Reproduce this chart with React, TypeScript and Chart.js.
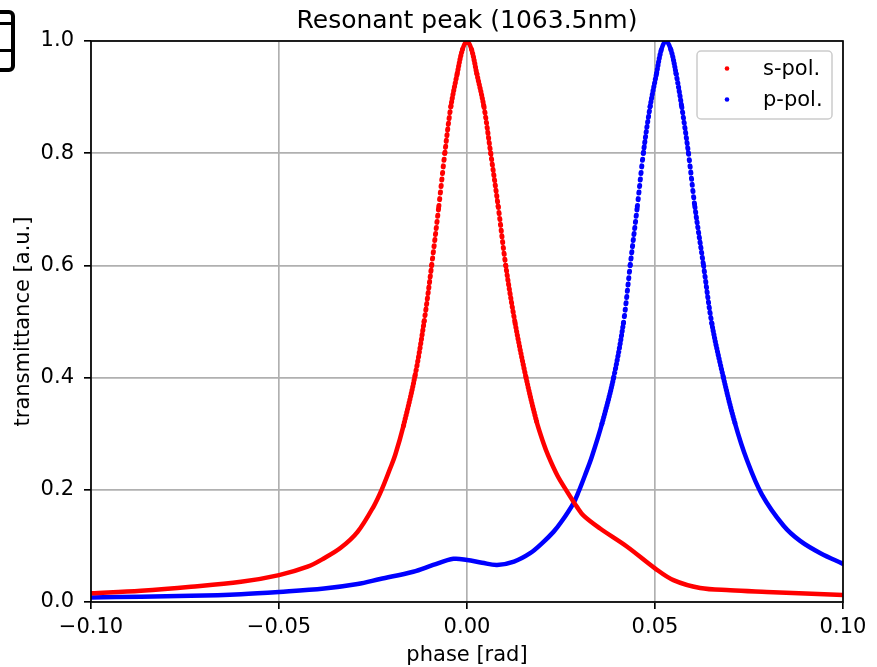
import React, { useEffect, useRef } from "react";
import { Chart, registerables } from "chart.js";

Chart.register(...registerables);

const sPhase = [-0.1, -0.0867, -0.0734, -0.0601, -0.05, -0.0424, -0.038, -0.0335, -0.0291, -0.0247, -0.0227, -0.0205, -0.0191, -0.0169, -0.0138, -0.0114, -0.0094, -0.0075, -0.0059, -0.0043, -0.0026, -0.0012, 0.0, 0.0012, 0.0026, 0.0045, 0.0063, 0.0083, 0.0103, 0.0128, 0.0157, 0.0185, 0.0203, 0.0216, 0.024, 0.0265, 0.0282, 0.0292, 0.031, 0.0354, 0.0425, 0.05, 0.0549, 0.062, 0.07, 0.0797, 0.09, 0.1];
const sValue = [0.0155, 0.02, 0.027, 0.036, 0.048, 0.063, 0.078, 0.097, 0.125, 0.172, 0.2, 0.237, 0.262, 0.314, 0.404, 0.5, 0.6, 0.705, 0.8, 0.883, 0.942, 0.985, 1.0, 0.985, 0.942, 0.883, 0.8, 0.705, 0.6, 0.497, 0.4, 0.322, 0.284, 0.261, 0.226, 0.198, 0.18, 0.17, 0.154, 0.131, 0.099, 0.06, 0.039, 0.025, 0.021, 0.018, 0.015, 0.0125];

const pPhase = [-0.1, -0.0867, -0.0734, -0.0601, -0.05, -0.038, -0.0291, -0.0231, -0.0143, -0.009, -0.0036, 0.0, 0.004, 0.008, 0.0125, 0.0168, 0.02, 0.023, 0.025, 0.0283, 0.0297, 0.0315, 0.0332, 0.0359, 0.039, 0.0416, 0.0434, 0.0453, 0.0469, 0.0487, 0.0504, 0.0517, 0.0529, 0.0542, 0.0556, 0.0571, 0.0589, 0.0606, 0.0629, 0.0651, 0.0682, 0.0713, 0.0744, 0.0784, 0.0842, 0.0886, 0.094, 0.1];
const pValue = [0.008, 0.0095, 0.011, 0.014, 0.018, 0.024, 0.032, 0.041, 0.054, 0.066, 0.077, 0.075, 0.07, 0.066, 0.072, 0.087, 0.105, 0.125, 0.142, 0.176, 0.197, 0.228, 0.259, 0.318, 0.4, 0.497, 0.6, 0.705, 0.8, 0.883, 0.942, 0.985, 1.0, 0.985, 0.942, 0.883, 0.8, 0.705, 0.6, 0.497, 0.4, 0.318, 0.254, 0.192, 0.136, 0.109, 0.087, 0.068];

const xTicks = [-0.1, -0.05, 0.0, 0.05, 0.1];
const yTicks = [0.0, 0.2, 0.4, 0.6, 0.8, 1.0];

const seriesLabels = ["s-pol.", "p-pol."];
const seriesColors = ["#ff0000", "#0000ff"];
const titleText = "Resonant peak (1063.5nm)";
const xTitle = "phase [rad]";
const yTitle = "transmittance [a.u.]";

const FONT = '"DejaVu Sans", sans-serif';

// marker spacing (px along x) used to imitate the dense dotted markers
const SAMPLE_DX = 0.75;
const DOT_THRESHOLD = 3.0;

function stepOf(ctx: any) {
  const dx = Math.abs(ctx.p1.x - ctx.p0.x);
  const dy = Math.abs(ctx.p1.y - ctx.p0.y);
  if (dx < 0.01) return 8;
  return Math.min(8, (SAMPLE_DX * Math.hypot(dx, dy)) / dx);
}

const decorPlugin = {
  id: "decor",
  afterDraw(chart: any) {
    const { ctx, chartArea } = chart;
    const { left, right, top, bottom } = chartArea;
    ctx.save();
    ctx.strokeStyle = "#000";
    ctx.lineWidth = 1.67;
    ctx.strokeRect(left, top, right - left, bottom - top);
    ctx.fillStyle = "#000";
    ctx.font = `25px ${FONT}`;
    ctx.textAlign = "center";
    ctx.textBaseline = "alphabetic";
    ctx.fillText(titleText, (left + right) / 2, 28);
    ctx.font = `21px ${FONT}`;
    ctx.fillText(xTitle, (left + right) / 2, 661);
    ctx.save();
    ctx.translate(29, (top + bottom) / 2);
    ctx.rotate(-Math.PI / 2);
    ctx.fillText(yTitle, 0, 0);
    ctx.restore();
    const lx = 697, ly = 51, lw = 135, lh = 68, r = 4;
    ctx.beginPath();
    ctx.moveTo(lx + r, ly);
    ctx.lineTo(lx + lw - r, ly);
    ctx.arcTo(lx + lw, ly, lx + lw, ly + r, r);
    ctx.lineTo(lx + lw, ly + lh - r);
    ctx.arcTo(lx + lw, ly + lh, lx + lw - r, ly + lh, r);
    ctx.lineTo(lx + r, ly + lh);
    ctx.arcTo(lx, ly + lh, lx, ly + lh - r, r);
    ctx.lineTo(lx, ly + r);
    ctx.arcTo(lx, ly, lx + r, ly, r);
    ctx.closePath();
    ctx.fillStyle = "rgba(255,255,255,0.8)";
    ctx.fill();
    ctx.strokeStyle = "#cccccc";
    ctx.lineWidth = 1.5;
    ctx.stroke();
    ctx.font = `21px ${FONT}`;
    ctx.textAlign = "left";
    ctx.textBaseline = "middle";
    seriesLabels.forEach((lab, i) => {
      const cy = 68.5 + i * 31;
      ctx.beginPath();
      ctx.arc(727, cy, 2.3, 0, Math.PI * 2);
      ctx.fillStyle = seriesColors[i];
      ctx.fill();
      ctx.fillStyle = "#000";
      ctx.fillText(lab, 763, cy + 1);
    });
    ctx.restore();
  },
};

function fmt(v: number, d: number) {
  const s = Math.abs(v).toFixed(d);
  return v < -1e-12 ? "\u2212" + s : s;
}

function makeDataset(label: string, xs: number[], ys: number[], color: string) {
  return {
    label,
    data: xs.map((x, i) => ({ x, y: ys[i] })),
    borderColor: color,
    backgroundColor: color,
    borderWidth: 4.5,
    borderCapStyle: "round",
    borderJoinStyle: "round",
    pointRadius: 0,
    tension: 0.35,
    fill: false,
    segment: {
      borderDash: (ctx: any) => {
        const st = stepOf(ctx);
        return st > DOT_THRESHOLD ? [1, st - 1] : undefined;
      },
      borderWidth: (ctx: any) => (stepOf(ctx) > DOT_THRESHOLD ? 5 : undefined),
    },
  };
}

export default function App() {
  const ref = useRef<HTMLCanvasElement | null>(null);
  useEffect(() => {
    if (!ref.current) return;
    document.body.style.margin = "0";
    const gridOpts = {
      color: "#b0b0b0",
      lineWidth: 1.67,
      tickColor: "#000",
      tickWidth: 1.67,
      tickLength: 7,
    };
    const chart = new Chart(ref.current, {
      type: "line",
      data: {
        datasets: [
          makeDataset(seriesLabels[0], sPhase, sValue, seriesColors[0]),
          makeDataset(seriesLabels[1], pPhase, pValue, seriesColors[1]),
        ],
      },
      options: {
        animation: false,
        responsive: false,
        devicePixelRatio: 1,
        layout: { padding: { top: 41, right: 34, left: 0, bottom: 0 } },
        plugins: {
          legend: { display: false },
          title: { display: false },
          tooltip: { enabled: false },
        },
        scales: {
          x: {
            type: "linear",
            min: -0.1,
            max: 0.1,
            afterFit: (s: any) => {
              s.height = 65;
            },
            afterBuildTicks: (s: any) => {
              s.ticks = xTicks.map((v) => ({ value: v }));
            },
            grid: gridOpts,
            border: { display: false },
            ticks: {
              autoSkip: false,
              maxRotation: 0,
              padding: 6,
              color: "#000",
              font: { family: FONT, size: 21 },
              callback: (v: any) => fmt(Number(v), 2),
            },
          },
          y: {
            type: "linear",
            min: 0,
            max: 1,
            afterFit: (s: any) => {
              s.width = 91;
            },
            afterBuildTicks: (s: any) => {
              s.ticks = yTicks.map((v) => ({ value: v }));
            },
            grid: gridOpts,
            border: { display: false },
            ticks: {
              autoSkip: false,
              padding: 10,
              color: "#000",
              font: { family: FONT, size: 21 },
              callback: (v: any) => fmt(Number(v), 1),
            },
          },
        },
      },
      plugins: [decorPlugin],
    } as any);
    return () => chart.destroy();
  }, []);

  return (
    <div style={{ position: "fixed", left: 0, top: 0, width: 877, height: 667, background: "#fff", overflow: "hidden" }}>
      <canvas ref={ref} width={877} height={667} style={{ width: 877, height: 667, display: "block" }} />
      <div
        style={{
          position: "absolute",
          left: -20,
          top: 10,
          width: 35,
          height: 62,
          border: "4px solid #000",
          borderRadius: 6,
          boxSizing: "border-box",
        }}
      >
        <div style={{ position: "absolute", left: 0, right: 0, top: 7.5, height: 3, background: "#000" }} />
        <div style={{ position: "absolute", left: 0, right: 0, top: 34.5, height: 3, background: "#000" }} />
      </div>
    </div>
  );
}
